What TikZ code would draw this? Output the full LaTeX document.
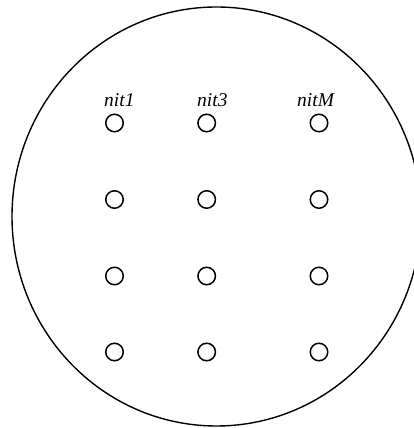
\documentclass[tikz,border=0pt]{standalone}
\usepackage{fontspec}
\setmainfont{Liberation Serif}
\begin{document}
\begin{tikzpicture}[x=1pt,y=1pt,
  hole/.style={draw,circle,line width=1.5pt,minimum size=17.5pt,inner sep=0pt},
  lbl/.style={anchor=base west,inner sep=0pt,font=\fontsize{19.5}{19.5}\selectfont\itshape}]
\useasboundingbox (0,0) rectangle (414,428);
\draw[line width=1.4pt] (216.5,211.5) ellipse [x radius=204.5, y radius=209.5];
\foreach \c/\x in {1/114.5,2/206.7,3/319}{
  \foreach \r/\y in {1/123,2/199.5,3/276,4/352}{
    \node[hole] (h\c\r) at (\x,428-\y) {};
  }
}
\node[lbl] (l1) at (104,321) {nit1};
\node[lbl] (l3) at (197,321) {nit3};
\node[lbl] (lM) at (297,321) {nitM};
\end{tikzpicture}
\end{document}
